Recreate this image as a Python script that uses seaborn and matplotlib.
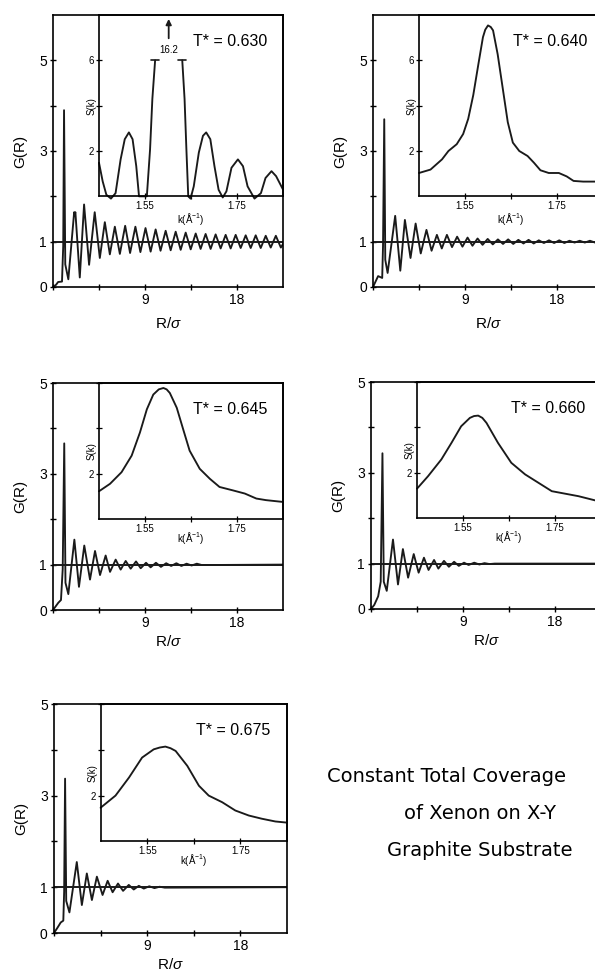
import matplotlib
matplotlib.use('Agg')
import matplotlib.pyplot as plt
import seaborn as sns

# pair correlation G(R)
r_630 = [0.0, 0.3, 0.5, 0.88, 1.0, 1.08, 1.2, 1.5, 2.07, 2.13, 2.19, 2.62,
         3.04, 3.53, 4.08, 4.58, 5.07, 5.56, 6.05, 6.54, 7.06, 7.54,
         8.06, 8.55, 9.05, 9.55, 10.04, 10.52, 11.02, 11.51, 12.0, 12.49,
         12.98, 13.47, 13.96, 14.44, 14.93, 15.42, 15.91, 16.4, 16.89, 17.38,
         17.87, 18.36, 18.85, 19.34, 19.83, 20.32, 20.81, 21.3, 21.8, 22.29, 22.5]
g_630 = [0.0, 0.05, 0.11, 0.12, 0.9, 3.9, 0.5, 0.17, 1.65, 1.6, 1.65, 0.21,
         1.82, 0.49, 1.65, 0.64, 1.43, 0.72, 1.33, 0.73, 1.35, 0.75,
         1.33, 0.77, 1.3, 0.78, 1.27, 0.8, 1.24, 0.81, 1.22, 0.82,
         1.2, 0.83, 1.18, 0.84, 1.17, 0.84, 1.16, 0.85, 1.15, 0.85,
         1.15, 0.86, 1.14, 0.86, 1.14, 0.86, 1.13, 0.87, 1.13, 0.87, 0.95]

r_640 = [0.0, 0.5, 0.9, 0.98, 1.1, 1.2, 1.43, 2.17, 2.67, 3.12,
         3.67, 4.17, 4.67, 5.23, 5.73, 6.25, 6.73, 7.23, 7.73, 8.23,
         8.75, 9.25, 9.73, 10.23, 10.72, 11.22, 11.72, 12.22, 12.72, 13.22,
         13.72, 14.22, 14.72, 15.22, 15.72, 16.22, 16.72, 17.22, 17.72, 18.22,
         18.72, 19.22, 19.72, 20.22, 20.72, 21.22, 21.72, 22.22, 22.5]
g_640 = [0.0, 0.24, 0.2, 0.9, 3.7, 0.6, 0.31, 1.57, 0.36, 1.48,
         0.64, 1.4, 0.74, 1.26, 0.8, 1.15, 0.85, 1.15, 0.88, 1.11,
         0.89, 1.09, 0.91, 1.07, 0.93, 1.06, 0.94, 1.05, 0.95, 1.05,
         0.95, 1.04, 0.96, 1.04, 0.96, 1.03, 0.97, 1.03, 0.97, 1.03,
         0.97, 1.02, 0.98, 1.02, 0.98, 1.02, 0.98, 1.02, 1.0]

r_645 = [0.0, 0.52, 0.78, 0.95, 1.1, 1.22, 1.5, 2.09, 2.54, 3.06,
         3.62, 4.11, 4.6, 5.15, 5.58, 6.13, 6.62, 7.11, 7.6, 8.12,
         8.58, 9.1, 9.55, 10.07, 10.56, 11.07, 11.56, 12.07, 12.56, 13.07,
         13.56, 14.07, 14.56, 22.5]
g_645 = [0.0, 0.16, 0.22, 0.9, 3.67, 0.6, 0.35, 1.55, 0.51, 1.42,
         0.67, 1.3, 0.77, 1.2, 0.84, 1.11, 0.89, 1.08, 0.91, 1.07,
         0.92, 1.04, 0.94, 1.04, 0.95, 1.03, 0.97, 1.03, 0.97, 1.02,
         0.98, 1.02, 0.99, 1.0]

r_660 = [0.0, 0.32, 0.7, 0.95, 1.12, 1.25, 1.54, 2.15, 2.64, 3.12,
         3.63, 4.18, 4.66, 5.18, 5.63, 6.17, 6.59, 7.14, 7.62, 8.13,
         8.59, 9.1, 9.55, 10.1, 10.6, 11.1, 11.6, 12.1, 22.5]
g_660 = [0.0, 0.09, 0.28, 0.6, 3.43, 0.6, 0.4, 1.53, 0.54, 1.32,
         0.69, 1.21, 0.8, 1.13, 0.86, 1.08, 0.89, 1.06, 0.93, 1.04,
         0.95, 1.02, 0.97, 1.02, 0.98, 1.01, 0.99, 1.0, 1.0]

r_675 = [0.0, 0.32, 0.65, 0.9, 0.98, 1.07, 1.18, 1.49, 2.2, 2.69,
         3.17, 3.66, 4.14, 4.69, 5.18, 5.66, 6.18, 6.67, 7.22, 7.7,
         8.19, 8.67, 9.2, 9.7, 10.2, 10.7, 22.5]
g_675 = [0.0, 0.11, 0.23, 0.27, 0.9, 3.37, 0.7, 0.45, 1.55, 0.61,
         1.3, 0.72, 1.23, 0.83, 1.14, 0.89, 1.08, 0.92, 1.05, 0.95,
         1.03, 0.97, 1.02, 0.98, 1.01, 0.99, 1.0]

# structure factor S(k) insets; T*=0.630 peak is off scale (16.2)
k_630_lo = [1.45, 1.458, 1.466, 1.476, 1.486, 1.497, 1.506, 1.515, 1.523, 1.531,
            1.537, 1.554, 1.561, 1.566, 1.572]
s_630_lo = [1.48, 0.66, 0.07, -0.1, 0.14, 1.63, 2.52, 2.82, 2.52, 1.33,
            0.0, 0.0, 2.07, 4.3, 6.0]
k_630_hi = [1.631, 1.636, 1.640, 1.644, 1.649, 1.656, 1.667, 1.676, 1.683, 1.692,
            1.701, 1.71, 1.719, 1.727, 1.738, 1.752, 1.763, 1.773, 1.788, 1.802,
            1.812, 1.825, 1.835, 1.85]
s_630_hi = [6.0, 4.3, 2.07, 0.0, -0.1, 0.44, 1.93, 2.67, 2.82, 2.52,
            1.33, 0.29, -0.05, 0.22, 1.26, 1.63, 1.33, 0.44, -0.1, 0.14,
            0.81, 1.11, 0.89, 0.3]
peak_630 = 16.2

k_640 = [1.45, 1.475, 1.50, 1.514, 1.532, 1.546, 1.557, 1.568, 1.579, 1.589,
         1.594, 1.60, 1.606, 1.611, 1.621, 1.632, 1.643, 1.654, 1.668, 1.686,
         1.70, 1.714, 1.732, 1.754, 1.771, 1.786, 1.807, 1.85]
s_640 = [1.03, 1.18, 1.63, 2.0, 2.3, 2.75, 3.42, 4.47, 5.82, 7.02,
         7.35, 7.54, 7.47, 7.32, 6.27, 4.77, 3.27, 2.37, 2.0, 1.78,
         1.48, 1.15, 1.03, 1.03, 0.88, 0.68, 0.65, 0.65]

k_645 = [1.45, 1.474, 1.499, 1.521, 1.539, 1.554, 1.568, 1.58, 1.59, 1.597,
         1.604, 1.619, 1.633, 1.647, 1.669, 1.691, 1.712, 1.741, 1.767, 1.792,
         1.813, 1.85]
s_645 = [1.23, 1.56, 2.07, 2.8, 3.82, 4.84, 5.49, 5.72, 5.78, 5.72,
         5.56, 4.91, 3.96, 3.02, 2.22, 1.78, 1.42, 1.27, 1.13, 0.91,
         0.84, 0.76]

k_660 = [1.45, 1.474, 1.503, 1.525, 1.546, 1.565, 1.574, 1.583, 1.592, 1.601,
         1.626, 1.655, 1.685, 1.714, 1.743, 1.772, 1.801, 1.85]
s_660 = [1.3, 1.85, 2.59, 3.32, 4.05, 4.42, 4.5, 4.52, 4.42, 4.2,
         3.32, 2.44, 1.93, 1.56, 1.19, 1.08, 0.97, 0.72]

k_675 = [1.45, 1.482, 1.511, 1.539, 1.564, 1.577, 1.589, 1.60, 1.611, 1.636,
         1.661, 1.682, 1.711, 1.739, 1.768, 1.796, 1.825, 1.85]
s_675 = [1.47, 2.0, 2.79, 3.66, 4.02, 4.1, 4.14, 4.07, 3.95, 3.3,
         2.43, 2.0, 1.71, 1.35, 1.13, 0.99, 0.87, 0.82]

temps = ['0.630', '0.640', '0.645', '0.660', '0.675']
caption = ['Constant Total Coverage', 'of Xenon on X-Y', 'Graphite Substrate']

sns.set_theme(style='ticks')
plt.rcParams['font.family'] = ['Liberation Sans', 'DejaVu Sans']
plt.rcParams.update({
    'mathtext.fontset': 'custom',
    'mathtext.rm': 'Liberation Sans',
    'mathtext.it': 'Liberation Sans:italic',
    'mathtext.bf': 'Liberation Sans:bold',
    'axes.edgecolor': 'black',
    'axes.linewidth': 1.2,
    'axes.labelcolor': 'black',
    'text.color': 'black',
    'xtick.color': 'black',
    'ytick.color': 'black',
})

W, H = 595, 971
fig = plt.figure(figsize=(W / 100, H / 100), dpi=100)
line_kw = dict(color='k', lw=1.35, estimator=None, sort=False, legend=False,
               solid_joinstyle='round')


def px_box(left, top, width, height):
    return [left / W, 1 - (top + height) / H, width / W, height / H]


def draw_panel(box, r, g, ymax, temp, sk_parts):
    ax = fig.add_axes(px_box(*box))
    sns.lineplot(x=r, y=g, ax=ax, **line_kw)
    ax.axhline(1, color='k', lw=1.4)
    ax.set_xlim(0, 22.5)
    ax.set_ylim(0, ymax)
    ax.set_xticks([0, 4.5, 9, 13.5, 18])
    ax.set_xticklabels(['', '', '9', '', '18'])
    ax.set_yticks([0, 1, 2, 3, 4, 5])
    ax.set_yticklabels(['0', '1', '', '3', '', '5'])
    ax.tick_params(direction='inout', length=5, width=1, labelsize=10, pad=2)
    ax.set_xlabel('R/$\\sigma$', fontsize=11)
    ax.set_ylabel('G(R)', fontsize=11)
    ax.xaxis.set_label_coords(0.5, -0.105)
    ax.yaxis.set_label_coords(-0.11, 0.5)

    # inset S(k), sharing the upper right corner of the main frame
    ins = ax.inset_axes([4.5, 2, 18, ymax - 2], transform=ax.transData)
    ins.set_facecolor('none')
    for k, s in sk_parts:
        sns.lineplot(x=k, y=s, ax=ins, clip_on=False, **line_kw)
    ins.set_xlim(1.45, 1.85)
    ins.set_ylim(0, 2 * (ymax - 2))
    ins.set_xticks([1.55, 1.65, 1.75])
    ins.set_xticklabels(['1.55', '', '1.75'])
    ins.set_yticks([2, 4, 6])
    ins.set_yticklabels(['2', '', '6' if ymax > 5 else ''])
    ins.tick_params(direction='inout', length=4, width=0.9, labelsize=7, pad=1.5)
    ins.set_xlabel('k(Å$^{\\mathrm{-1}}$)', fontsize=7)
    ins.set_ylabel('S(k)', fontsize=7)
    ins.xaxis.set_label_coords(0.5, -0.08)
    ins.yaxis.set_label_coords(-0.015, 0.5)

    ax.text(13.7, ymax - 0.58, 'T* = ' + temp, fontsize=11.5, va='center')
    return ax, ins


_, ins630 = draw_panel((53, 15, 230, 272), r_630, g_630, 6, temps[0],
                       [(k_630_lo, s_630_lo), (k_630_hi, s_630_hi)])
draw_panel((373, 15, 230, 272), r_640, g_640, 6, temps[1], [(k_640, s_640)])
draw_panel((53, 383, 230, 227), r_645, g_645, 5, temps[2], [(k_645, s_645)])
draw_panel((371, 382, 230, 227), r_660, g_660, 5, temps[3], [(k_660, s_660)])
draw_panel((54, 704, 233, 229), r_675, g_675, 5, temps[4], [(k_675, s_675)])

# truncated peak of the first inset: caps, arrow and its true height
cap_w = 0.009
for kc, sc in [(k_630_lo[-1], s_630_lo[-1]), (k_630_hi[0], s_630_hi[0])]:
    ins630.plot([kc - cap_w, kc + cap_w], [sc, sc], color='k', lw=1.2)
mid = (k_630_lo[-1] + k_630_hi[0]) / 2
ins630.annotate('', xy=(mid, 7.95), xytext=(mid, 6.85),
                arrowprops=dict(arrowstyle='-|>', color='k', lw=1.3,
                                mutation_scale=8))
ins630.text(mid, 6.45, '%.1f' % peak_630, fontsize=7, ha='center', va='center')

fig.text(327 / W, 1 - 776 / H, caption[0], fontsize=14, family='DejaVu Sans',
         ha='left', va='center')
for i, line in enumerate(caption[1:], start=1):
    fig.text(480 / W, 1 - (776 + 37 * i) / H, line, fontsize=14,
             family='DejaVu Sans', ha='center', va='center')

fig.savefig('out.png', dpi=100, facecolor='white')
